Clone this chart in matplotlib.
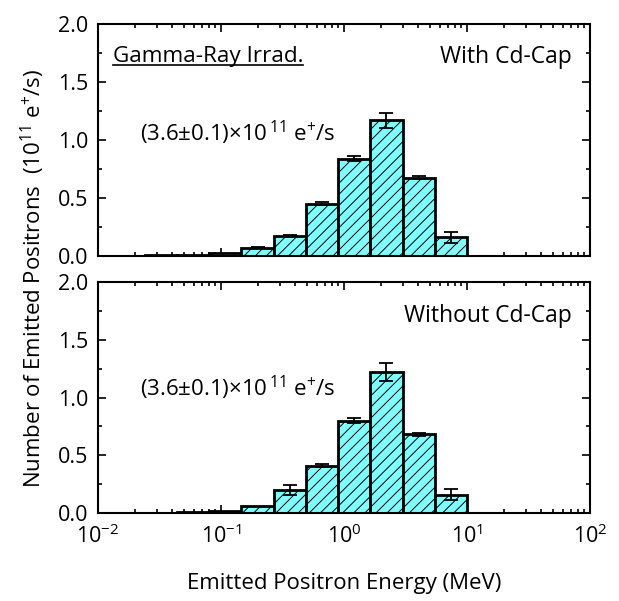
import numpy as np
import matplotlib
matplotlib.use("Agg")
import matplotlib.pyplot as plt
from matplotlib.ticker import LogLocator, MultipleLocator, FormatStrFormatter, NullFormatter
from matplotlib.lines import Line2D

plt.rcParams['font.family'] = ['Open Sans', 'DejaVu Sans']
plt.rcParams['mathtext.fontset'] = 'custom'
plt.rcParams['mathtext.rm'] = 'Open Sans'
plt.rcParams['mathtext.it'] = 'Open Sans'
plt.rcParams['mathtext.default'] = 'regular'
plt.rcParams['hatch.linewidth'] = 0.7

# Bin edges (MeV)
bin_edges = [0.0131, 0.024, 0.0439, 0.0802, 0.1466, 0.268, 0.49, 0.895, 1.64, 2.99, 5.47, 10.0]

# With Cd-Cap
with_vals = [0.003, 0.005, 0.012, 0.03, 0.072, 0.175, 0.45, 0.84, 1.17, 0.675, 0.16]
with_errs = [0.0, 0.0, 0.0, 0.0, 0.003, 0.005, 0.012, 0.02, 0.065, 0.012, 0.045]

# Without Cd-Cap
without_vals = [0.002, 0.003, 0.006, 0.02, 0.06, 0.2, 0.41, 0.80, 1.22, 0.68, 0.16]
without_errs = [0.0, 0.0, 0.0, 0.0, 0.0, 0.04, 0.01, 0.025, 0.08, 0.012, 0.045]

panel_labels = ["With Cd-Cap", "Without Cd-Cap"]
total_text = r"(3.6$\pm$0.1)$\times$10$^{\,11}$ e$^{+}$/s"

W, H = 619, 601
fig = plt.figure(figsize=(W/100, H/100), dpi=100)
ax1 = fig.add_axes([98/W, 1-256/H, (590-98)/W, (256-24)/H])
ax2 = fig.add_axes([98/W, 1-513/H, (590-98)/W, (513-282)/H])

edges = np.array(bin_edges)
lefts = edges[:-1]
widths = np.diff(edges)
centers = np.sqrt(edges[:-1]*edges[1:])

for ax, vals, errs, lab, ty, ly in [(ax1, with_vals, with_errs, panel_labels[0], 0.858, 0.53),
                                    (ax2, without_vals, without_errs, panel_labels[1], 0.853, 0.54)]:
    ax.bar(lefts, vals, width=widths, align='edge', color='#80FFFF',
           edgecolor='black', linewidth=2.0, hatch='///', zorder=2)
    e = np.array(errs)
    m = e > 0
    ax.errorbar(centers[m], np.array(vals)[m], yerr=e[m], fmt='none', ecolor='black',
                elinewidth=1.3, capsize=5, capthick=1.3, zorder=3)
    ax.set_xscale('log')
    ax.set_xlim(1e-2, 1e2)
    ax.set_ylim(0, 2.0)
    ax.yaxis.set_major_locator(MultipleLocator(0.5))
    ax.yaxis.set_minor_locator(MultipleLocator(0.25))
    ax.yaxis.set_major_formatter(FormatStrFormatter('%.1f'))
    ax.xaxis.set_major_locator(LogLocator(base=10, numticks=10))
    ax.xaxis.set_minor_locator(LogLocator(base=10, subs=np.arange(2, 10), numticks=20))
    ax.xaxis.set_minor_formatter(NullFormatter())
    ax.tick_params(which='both', direction='in', top=True, right=True, labelsize=15.5, width=1.2)
    ax.tick_params(which='major', length=6)
    ax.tick_params(which='minor', length=3)
    ax.tick_params(axis='x', which='major', pad=8)
    ax.tick_params(axis='y', which='major', pad=7)
    for s in ax.spines.values():
        s.set_linewidth(1.5)
    ax.text(0.962, ty, lab, transform=ax.transAxes, ha='right', va='center', fontsize=16.5)
    ax.text(0.085, ly, total_text, transform=ax.transAxes,
            ha='left', va='center', fontsize=16)

ax1.tick_params(axis='x', labelbottom=False)

t = ax1.text(0.03, 0.858, "Gamma-Ray Irrad.", transform=ax1.transAxes, ha='left',
             va='center', fontsize=16.2)
fig.canvas.draw()
bb = t.get_window_extent(renderer=fig.canvas.get_renderer())
inv = fig.transFigure.inverted()
(x0, y0), (x1, y1) = inv.transform([(bb.x0, bb.y0), (bb.x1, bb.y0)])
fig.add_artist(Line2D([x0, x1], [y0 + 2/H, y0 + 2/H], transform=fig.transFigure,
                      color='black', linewidth=1.2))

fig.text(0.053, 1-278/H, r"Number of Emitted Positrons  (10$^{11}$ e$^{+}$/s)",
         rotation=90, ha='center', va='center', fontsize=16)
fig.text((98+590)/2/W, 1-584/H, "Emitted Positron Energy (MeV)", ha='center', va='center',
         fontsize=16)

fig.savefig("out.png", dpi=100)
